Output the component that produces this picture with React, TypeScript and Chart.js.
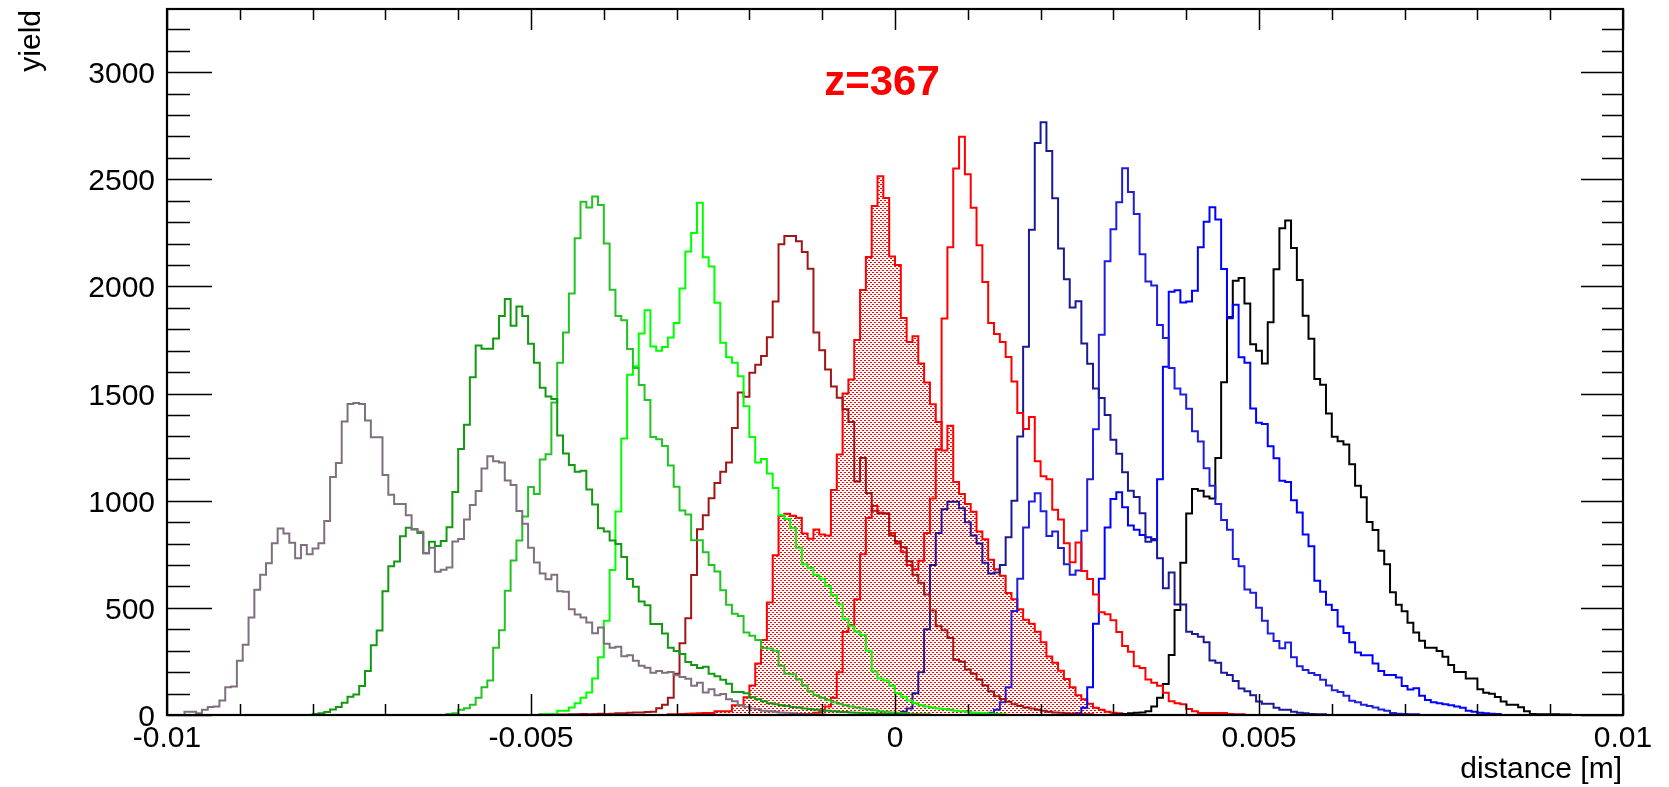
import React, { useEffect, useRef } from 'react';
import { Chart, registerables } from 'chart.js';

Chart.register(...registerables);

// ---- axis definition ----
const X_MIN = -0.01;
const X_MAX = 0.01;
const N_BINS = 250;
const Y_MIN = 0;
const Y_MAX = 3295;
const X_TICK_LABELS = [-0.01, -0.005, 0, 0.005, 0.01];
const Y_TICK_LABELS = [0, 500, 1000, 1500, 2000, 2500, 3000];
const X_MINOR_STEP = 0.001;
const Y_MINOR_STEP = 100;

const TITLE = 'z=367';
const X_TITLE = 'distance [m]';
const Y_TITLE = 'yield';

// ---- histograms: first bin index + bin contents ----
const greyStart = 3;
const greyCounts = [
  15, 15, 8, 25, 37, 40, 68, 129, 133, 253,
  328, 455, 584, 654, 708, 801, 870, 847, 804, 731,
  793, 750, 777, 801, 906, 1111, 1176, 1370, 1451, 1456,
  1451, 1374, 1296, 1296, 1120, 1028, 985, 985, 932, 868,
  855, 755, 780, 668, 678, 688, 810, 821, 913, 980,
  1046, 1151, 1208, 1184, 1179, 1094, 1073, 952, 893, 780,
  712, 660, 633, 655, 578, 575, 494, 469, 455, 432,
  382, 408, 332, 314, 318, 274, 279, 253, 230, 221,
  197, 205, 197, 201, 185, 177, 169, 137, 150, 105,
  120, 92, 98, 74, 64, 46, 38, 30, 28, 20,
  18, 15, 12, 10, 8, 6, 5, 4, 3, 2,
];

const darkGreenStart = 25;
const darkGreenCounts = [
  5, 8, 14, 26, 37, 57, 85, 96, 135, 205,
  326, 394, 578, 694, 716, 834, 874, 866, 850, 755,
  808, 789, 812, 876, 1041, 1242, 1355, 1576, 1725, 1709,
  1709, 1757, 1862, 1942, 1817, 1907, 1862, 1733, 1644, 1527,
  1486, 1475, 1305, 1220, 1167, 1135, 1140, 1053, 983, 872,
  857, 814, 798, 737, 635, 599, 530, 512, 425, 425,
  380, 314, 299, 285, 247, 233, 219, 225, 192, 181,
  164, 146, 107, 107, 101, 83, 74, 64, 55, 50,
  46, 42, 37, 35, 30, 28, 25, 22, 20, 18,
  15, 14, 12, 10, 9, 8, 7, 6, 5, 4,
  3, 2,
];

const midGreenStart = 48;
const midGreenCounts = [
  5, 8, 24, 32, 48, 81, 129, 161, 314, 395,
  580, 721, 814, 927, 1064, 1032, 1193, 1217, 1459, 1644,
  1785, 1967, 2225, 2395, 2368, 2420, 2380, 2200, 1985, 1862,
  1842, 1708, 1620, 1540, 1470, 1297, 1287, 1255, 1165, 1065,
  954, 936, 815, 815, 760, 700, 670, 582, 515, 472,
  462, 385, 370, 350, 313, 310, 300, 230, 193, 190,
  166, 138, 110, 92, 80, 70, 60, 52, 45, 40,
  35, 30, 26, 22, 18, 15, 12, 10, 8, 6,
  5, 4, 3,
];

const brightGreenStart = 64;
const brightGreenCounts = [
  5, 5, 5, 20, 20, 35, 55, 80, 105, 170,
  270, 440, 677, 950, 1290, 1588, 1628, 1781, 1889, 1720,
  1700, 1717, 1762, 1830, 1991, 2163, 2249, 2391, 2136, 2093,
  1924, 1737, 1670, 1644, 1581, 1441, 1297, 1178, 1195, 1127,
  1059, 932, 915, 873, 780, 703, 686, 653, 636, 602,
  559, 517, 449, 415, 390, 373, 300, 203, 170, 161,
  136, 102, 85, 68, 55, 45, 40, 35, 30, 28,
  25, 20, 18, 15, 12, 10, 8, 6, 5, 4,
];

const darkRedStart = 64;
const darkRedCounts = [
  4, 4, 3, 2, 2, 3, 4, 5, 4, 5,
  6, 5, 6, 8, 8, 10, 12, 12, 14, 15,
  32, 48, 81, 193, 335, 452, 653, 867, 932, 1012,
  1083, 1135, 1179, 1340, 1505, 1485, 1597, 1635, 1675, 1763,
  1930, 2197, 2235, 2235, 2211, 2161, 2083, 1785, 1702, 1613,
  1533, 1481, 1427, 1368, 1090, 1200, 1036, 953, 940, 940,
  838, 810, 783, 718, 654, 617, 562, 488, 414, 396,
  359, 258, 249, 212, 193, 166, 138, 110, 87, 75,
  62, 50, 42, 35, 30, 25, 20, 15, 12, 10,
  8, 6, 5, 4, 3,
];

const redFilledStart = 86;
const redFilledCounts = [
  3, 4, 5, 6, 7, 8, 9, 9, 18, 18,
  18, 46, 46, 83, 138, 240, 350, 525, 746, 930,
  939, 930, 921, 847, 823, 866, 842, 838, 1050, 1216,
  1501, 1566, 1750, 1984, 2137, 2376, 2514, 2413, 2140, 2100,
  1853, 1741, 1768, 1640, 1552, 1450, 1368, 1234, 1350, 1087,
  1031, 985, 949, 857, 820, 725, 680, 650, 569, 540,
  493, 445, 426, 388, 340, 273, 244, 206, 168, 130,
  92, 73, 53, 34, 25, 15, 10, 8, 5, 4,
];

const redStart = 110;
const redCounts = [
  5, 10, 20, 40, 80, 200, 387, 420, 540, 750,
  920, 976, 945, 940, 850, 800, 760, 700, 680, 720,
  850, 1010, 1240, 1851, 2183, 2551, 2699, 2524, 2367, 2192,
  2021, 1829, 1778, 1741, 1671, 1556, 1409, 1335, 1391, 1184,
  1114, 1100, 958, 912, 801, 713, 805, 672, 635, 562,
  479, 470, 442, 387, 322, 295, 228, 219, 166, 150,
  136, 104, 64, 55, 50, 28, 18, 9, 9, 9,
  9, 9, 5, 4, 3,
];

const navyStart = 125;
const navyCounts = [
  8, 15, 30, 101, 200, 400, 700, 850, 960, 995,
  995, 965, 900, 838, 800, 710, 660, 665, 700, 830,
  1000, 1300, 1719, 2265, 2670, 2766, 2632, 2412, 2177, 2034,
  1902, 1931, 1734, 1639, 1524, 1480, 1400, 1285, 1219, 1133,
  1047, 1018, 942, 808, 821, 732, 592, 665, 516, 516,
  388, 378, 365, 340, 254, 244, 197, 187, 159, 124,
  111, 92, 63, 53, 53, 34, 25, 25, 15, 10,
  8, 5, 4, 3,
];

const blueStart = 138;
const blueCounts = [
  2, 3, 5, 10, 25, 60, 130, 485, 636, 875,
  997, 1035, 951, 836, 856, 779, 703, 655, 674, 860,
  1100, 1334, 1775, 2118, 2267, 2393, 2552, 2441, 2338, 2150,
  2023, 2005, 1820, 1760, 1620, 1524, 1496, 1429, 1324, 1276,
  1152, 1070, 985, 910, 865, 728, 694, 586, 570, 500,
  440, 380, 345, 312, 338, 270, 228, 210, 196, 187,
  165, 138, 116, 107, 90, 66, 60, 48, 42, 35,
  26, 20, 9, 6, 5, 4, 3,
];

const lightBlueStart = 154;
const lightBlueCounts = [
  3, 5, 8, 34, 130, 426, 636, 875, 1008, 1040,
  970, 884, 865, 840, 830, 815, 1100, 1625, 1975, 1982,
  1925, 1930, 1980, 2183, 2302, 2370, 2312, 2082, 1852, 1915,
  1670, 1644, 1430, 1364, 1358, 1254, 1198, 1093, 1088, 1002,
  945, 842, 788, 627, 575, 514, 490, 413, 383, 340,
  292, 279, 279, 240, 205, 187, 187, 175, 135, 119,
  125, 90, 70, 60, 55, 50, 45, 40, 34, 20,
  15, 10, 8, 6, 5,
];

const blackStart = 163;
const blackCounts = [
  3, 5, 8, 10, 12, 18, 40, 80, 145, 280,
  490, 710, 940, 1055, 1047, 1020, 1010, 1200, 1553, 1858,
  2027, 2040, 1920, 1730, 1700, 1640, 1833, 2080, 2272, 2308,
  2180, 2030, 1863, 1756, 1568, 1541, 1407, 1299, 1278, 1263,
  1170, 1070, 1016, 901, 864, 767, 704, 573, 514, 484,
  430, 385, 346, 314, 314, 299, 272, 233, 201, 201,
  170, 170, 120, 104, 99, 84, 63, 48, 48, 36,
  18, 5, 4, 4, 3, 3, 2, 2,
];

const FONT = '"Liberation Sans", Arial, Helvetica, sans-serif';

function histPoints(start: number, counts: number[]) {
  const w = (X_MAX - X_MIN) / N_BINS;
  const pts: { x: number; y: number }[] = [];
  pts.push({ x: X_MIN + start * w, y: 0 });
  counts.forEach((c, i) => pts.push({ x: X_MIN + (start + i) * w, y: c }));
  const endX = X_MIN + (start + counts.length) * w;
  pts.push({ x: endX, y: counts[counts.length - 1] });
  pts.push({ x: endX, y: 0 });
  return pts;
}

function fmtX(v: number) {
  if (Math.abs(v) < 1e-12) return '0';
  return String(parseFloat(v.toPrecision(6)));
}

const frameAndText = {
  id: 'rootFrame',
  afterDraw(chart: any) {
    const { ctx, chartArea: a, scales } = chart;
    const xs = scales.x;
    const ys = scales.y;
    ctx.save();
    ctx.strokeStyle = '#000';
    ctx.lineWidth = 1.5;
    ctx.beginPath();
    // x ticks (bottom and top, inward)
    const nx = Math.round((X_MAX - X_MIN) / X_MINOR_STEP);
    for (let k = 0; k <= nx; k++) {
      const v = X_MIN + k * X_MINOR_STEP;
      const px = Math.round(xs.getPixelForValue(v)) + 0.5;
      const major = k % 5 === 0;
      const len = major ? 21 : 11;
      ctx.moveTo(px, a.bottom);
      ctx.lineTo(px, a.bottom - len);
      ctx.moveTo(px, a.top);
      ctx.lineTo(px, a.top + len);
    }
    // y ticks (left and right, inward)
    const ny = Math.floor((Y_MAX - Y_MIN) / Y_MINOR_STEP);
    for (let k = 0; k <= ny; k++) {
      const v = Y_MIN + k * Y_MINOR_STEP;
      const py = Math.round(ys.getPixelForValue(v)) + 0.5;
      const major = k % 5 === 0;
      ctx.moveTo(a.left, py);
      ctx.lineTo(a.left + (major ? 45 : 23), py);
      ctx.moveTo(a.right, py);
      ctx.lineTo(a.right - (major ? 42 : 21), py);
    }
    ctx.stroke();
    // frame
    ctx.lineWidth = 2.2;
    ctx.strokeRect(a.left, a.top, a.right - a.left, a.bottom - a.top);

    // tick labels
    ctx.fillStyle = '#000';
    ctx.font = `30px ${FONT}`;
    ctx.textBaseline = 'alphabetic';
    ctx.textAlign = 'center';
    X_TICK_LABELS.forEach((v) => {
      ctx.fillText(fmtX(v), xs.getPixelForValue(v), 747);
    });
    ctx.textAlign = 'right';
    Y_TICK_LABELS.forEach((v) => {
      ctx.fillText(String(v), 155, ys.getPixelForValue(v) + 11);
    });

    // axis titles
    ctx.textAlign = 'right';
    ctx.fillText(X_TITLE, a.right - 1, 778);
    ctx.save();
    ctx.translate(40, a.top + 1);
    ctx.rotate(-Math.PI / 2);
    ctx.textAlign = 'right';
    ctx.fillText(Y_TITLE, 0, 0);
    ctx.restore();

    // title
    ctx.fillStyle = '#ff0000';
    ctx.font = `bold 42px ${FONT}`;
    ctx.textAlign = 'center';
    ctx.fillText(TITLE, 882, 95);
    ctx.restore();
  },
};

export default function App() {
  const canvasRef = useRef<HTMLCanvasElement | null>(null);

  useEffect(() => {
    document.body.style.margin = '0';
    const canvas = canvasRef.current;
    if (!canvas) return;
    const ctx = canvas.getContext('2d') as CanvasRenderingContext2D;

    const tile = document.createElement('canvas');
    tile.width = 4;
    tile.height = 4;
    const tctx = tile.getContext('2d') as CanvasRenderingContext2D;
    tctx.fillStyle = '#ff0000';
    tctx.fillRect(0, 0, 2, 1);
    tctx.fillRect(2, 2, 2, 1);
    const pattern = ctx.createPattern(tile, 'repeat');

    const line = (label: string, color: string, start: number, counts: number[], order: number) => ({
      label,
      data: histPoints(start, counts),
      borderColor: color,
      borderWidth: 2,
      pointRadius: 0,
      stepped: 'before' as const,
      fill: false,
      order,
    });

    const datasets: any[] = [
      line('grey', '#7f6f7f', greyStart, greyCounts, 1),
      line('dark green', '#119911', darkGreenStart, darkGreenCounts, 1),
      line('green', '#22c322', midGreenStart, midGreenCounts, 1),
      line('bright green', '#00ff00', brightGreenStart, brightGreenCounts, 1),
      line('dark red', '#a01515', darkRedStart, darkRedCounts, 1),
      line('red', '#ff0000', redStart, redCounts, 1),
      line('navy', '#1a1a99', navyStart, navyCounts, 1),
      line('blue', '#1e1ee0', blueStart, blueCounts, 1),
      line('light blue', '#0000ff', lightBlueStart, lightBlueCounts, 1),
      line('black', '#000000', blackStart, blackCounts, 1),
      {
        ...line('red filled', '#ff0000', redFilledStart, redFilledCounts, 5),
        fill: 'origin',
        backgroundColor: pattern,
      },
    ];

    const chart = new Chart(ctx, {
      type: 'line',
      data: { datasets },
      options: {
        animation: false,
        responsive: false,
        devicePixelRatio: 1,
        layout: { padding: { left: 0, right: 46, top: 9, bottom: 0 } },
        plugins: {
          legend: { display: false },
          tooltip: { enabled: false },
          title: { display: false },
        },
        elements: { point: { radius: 0 }, line: { tension: 0 } },
        scales: {
          x: {
            type: 'linear',
            min: X_MIN,
            max: X_MAX,
            ticks: { display: false },
            grid: { display: false },
            border: { display: false },
            afterFit: (s: any) => {
              s.height = 72;
            },
          },
          y: {
            type: 'linear',
            min: Y_MIN,
            max: Y_MAX,
            ticks: { display: false },
            grid: { display: false },
            border: { display: false },
            afterFit: (s: any) => {
              s.width = 167;
            },
          },
        },
      },
      plugins: [frameAndText],
    });

    return () => {
      chart.destroy();
    };
  }, []);

  return (
    <div style={{ width: 1669, height: 787, background: '#fff' }}>
      <canvas ref={canvasRef} width={1669} height={787} style={{ display: 'block' }} />
    </div>
  );
}
